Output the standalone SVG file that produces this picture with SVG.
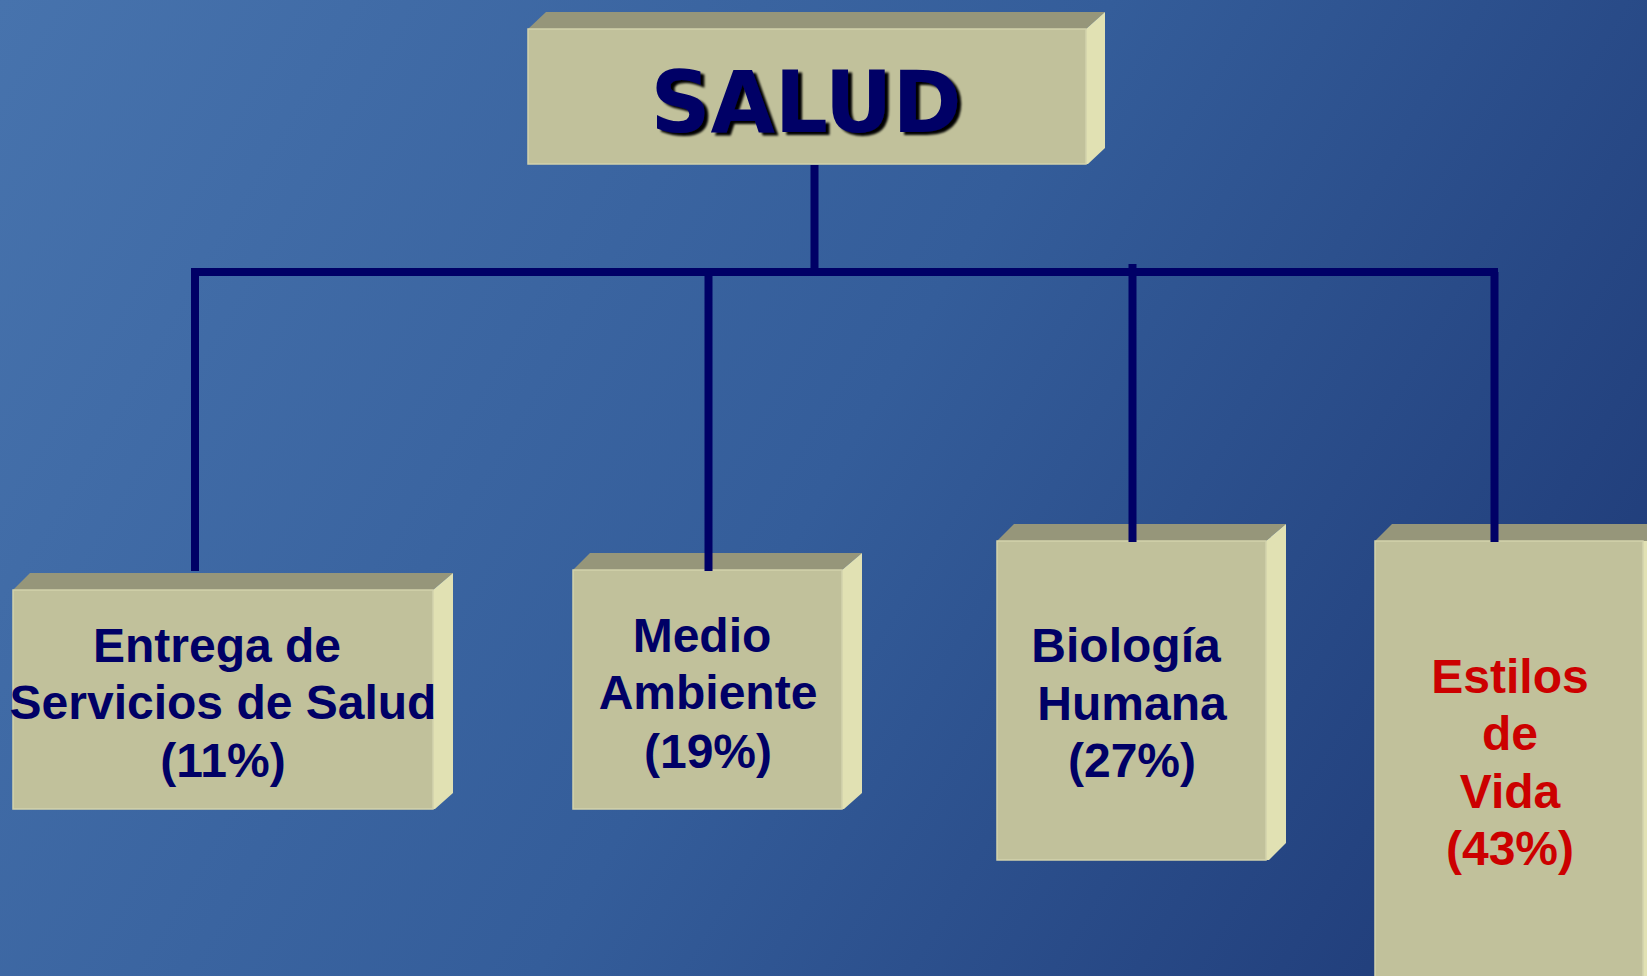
<svg xmlns="http://www.w3.org/2000/svg" width="1647" height="976" viewBox="0 0 1647 976">
  <defs>
    <linearGradient id="bg" gradientUnits="userSpaceOnUse" x1="0" y1="0" x2="1647" y2="976">
      <stop offset="0" stop-color="#4773AD"/>
      <stop offset="0.5" stop-color="#345D9A"/>
      <stop offset="1" stop-color="#1C3673"/>
    </linearGradient>
    <filter id="shadow" x="-10%" y="-10%" width="120%" height="130%">
      <feGaussianBlur in="SourceAlpha" stdDeviation="1"/>
      <feOffset dx="4" dy="3" result="b"/>
      <feMerge><feMergeNode in="b"/><feMergeNode in="SourceGraphic"/></feMerge>
    </filter>
  </defs>
  <style>
    .face { fill: #C1C19B; stroke: #D2D2AC; stroke-width: 1.5; }
    .top { fill: #96967A; }
    .side { fill: #E1E1B3; }
    .conn { stroke: #000066; stroke-width: 8; fill: none; stroke-linecap: butt; }
    .lbl { font-family: "Liberation Sans", Arial, sans-serif; font-weight: bold; font-size: 48px; text-anchor: middle; fill: #000066; }
    .red { fill: #CC0000; }
    .title { font-family: "DejaVu Sans", Verdana, sans-serif; font-weight: bold; font-size: 86px; text-anchor: middle; fill: #000066; }
  </style>
  <rect x="0" y="0" width="1647" height="976" fill="url(#bg)"/>

  <g id="node-salud">
    <polygon class="top" points="528,29 546,12 1105,12 1086,29"/>
    <polygon class="side" points="1086,29 1105,12 1105,148 1088,164 1086,164"/>
    <rect class="face" x="528" y="29" width="558" height="135"/>
    <text class="title" x="806" y="132" textLength="311" lengthAdjust="spacingAndGlyphs" filter="url(#shadow)">SALUD</text>
  </g>

  <g id="node-entrega">
    <polygon class="top" points="13,590 30,573 453,573 433,590"/>
    <polygon class="side" points="433,590 453,573 453,793 435,809 433,809"/>
    <rect class="face" x="13" y="590" width="420" height="219"/>
    <text class="lbl" x="217" y="662">Entrega de</text>
    <text class="lbl" x="223" y="719">Servicios de Salud</text>
    <text class="lbl" x="223" y="777">(11%)</text>
  </g>

  <g id="node-medio">
    <polygon class="top" points="573,570 590,553 862,553 842,570"/>
    <polygon class="side" points="842,570 862,553 862,793 844,809 842,809"/>
    <rect class="face" x="573" y="570" width="269" height="239"/>
    <text class="lbl" x="702" y="652">Medio</text>
    <text class="lbl" x="708" y="709">Ambiente</text>
    <text class="lbl" x="708" y="768">(19%)</text>
  </g>

  <g id="node-biologia">
    <polygon class="top" points="997,541 1014,524 1286,524 1266,541"/>
    <polygon class="side" points="1266,541 1286,524 1286,843 1269,860 1266,860"/>
    <rect class="face" x="997" y="541" width="269" height="319"/>
    <text class="lbl" x="1126" y="662">Biología</text>
    <text class="lbl" x="1132" y="720">Humana</text>
    <text class="lbl" x="1132" y="777">(27%)</text>
  </g>

  <g id="node-estilos">
    <polygon class="top" points="1375,541 1392,524 1647,524 1647,541"/>
    <rect class="side" x="1643" y="541" width="4" height="435"/>
    <rect class="face" x="1375" y="541" width="268" height="440"/>
    <text class="lbl red" x="1510" y="693">Estilos</text>
    <text class="lbl red" x="1510" y="750">de</text>
    <text class="lbl red" x="1510" y="808">Vida</text>
    <text class="lbl red" x="1510" y="865">(43%)</text>
  </g>

  <g id="connectors">
    <line class="conn" x1="814.5" y1="165" x2="814.5" y2="272"/>
    <line class="conn" x1="191" y1="272" x2="1498" y2="272"/>
    <line class="conn" x1="195" y1="272" x2="195" y2="571"/>
    <line class="conn" x1="708.5" y1="272" x2="708.5" y2="571"/>
    <line class="conn" x1="1132.5" y1="264" x2="1132.5" y2="542"/>
    <line class="conn" x1="1494.5" y1="272" x2="1494.5" y2="542"/>
  </g>
</svg>
